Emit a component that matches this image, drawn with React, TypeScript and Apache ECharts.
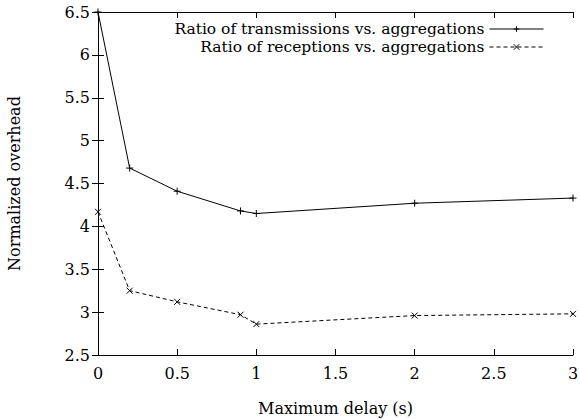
import React, { useEffect, useRef } from "react";
import * as echarts from "echarts";

const delays = [0, 0.2, 0.5, 0.9, 1, 2, 3];
const transmissions = [6.5, 4.68, 4.41, 4.18, 4.15, 4.27, 4.33];
const receptions = [4.17, 3.25, 3.12, 2.97, 2.86, 2.96, 2.98];
const seriesNames = [
  "Ratio of transmissions vs. aggregations",
  "Ratio of receptions vs. aggregations",
];

const FONT = "DejaVu Serif";
const FS = 16;
const plus = "path://M0,5L10,5M5,0L5,10";
const cross = "path://M0,0L10,10M10,0L0,10";

export default function App() {
  const ref = useRef<HTMLDivElement>(null);
  useEffect(() => {
    if (!ref.current) return;
    const chart = echarts.init(ref.current, undefined, { renderer: "svg" });
    const axisCommon = {
      axisLine: { show: true, lineStyle: { color: "#000", width: 1 } },
      axisTick: { show: true, inside: true, length: 6, lineStyle: { color: "#000" } },
      splitLine: { show: false },
    };
    chart.setOption({
      animation: false,
      backgroundColor: "#fff",
      textStyle: { fontFamily: FONT, color: "#000" },
      grid: { left: 98, right: 7, top: 12, bottom: 64, outerBoundsMode: "none", containLabel: false },
      legend: {
        right: 31,
        top: 15,
        orient: "vertical",
        align: "right",
        itemWidth: 54,
        itemHeight: 7,
        itemGap: 0,
        lineStyle: { width: 1 },
        itemStyle: { borderWidth: 1 },
        textStyle: { fontFamily: FONT, fontSize: 15.5, color: "#000", lineHeight: 18 },
        data: seriesNames,
      },
      xAxis: [
        {
          type: "value",
          min: 0,
          max: 3,
          interval: 0.5,
          name: "Maximum delay (s)",
          nameLocation: "middle",
          nameGap: 45,
          nameTextStyle: { fontFamily: FONT, fontSize: FS, color: "#000" },
          axisLabel: { fontFamily: FONT, fontSize: FS, color: "#000", margin: 10 },
          ...axisCommon,
        },
        {
          type: "value",
          position: "top",
          min: 0,
          max: 3,
          interval: 0.5,
          axisLabel: { show: false },
          ...axisCommon,
        },
      ],
      yAxis: [
        {
          type: "value",
          min: 2.5,
          max: 6.5,
          interval: 0.5,
          name: "Normalized overhead",
          nameLocation: "middle",
          nameGap: 76,
          nameTextStyle: { fontFamily: FONT, fontSize: FS, color: "#000" },
          axisLabel: { fontFamily: FONT, fontSize: FS, color: "#000", margin: 8 },
          ...axisCommon,
        },
        {
          type: "value",
          position: "right",
          min: 2.5,
          max: 6.5,
          interval: 0.5,
          axisLabel: { show: false },
          ...axisCommon,
        },
      ],
      series: [
        {
          name: seriesNames[0],
          type: "line",
          data: delays.map((d, i) => [d, transmissions[i]]),
          symbol: plus,
          symbolSize: 7,
          showAllSymbol: true,
          lineStyle: { color: "#000", width: 1, type: "solid" },
          itemStyle: { color: "#000", borderColor: "#000", borderWidth: 1 },
          emphasis: { disabled: true },
        },
        {
          name: seriesNames[1],
          type: "line",
          data: delays.map((d, i) => [d, receptions[i]]),
          symbol: cross,
          symbolSize: 6,
          showAllSymbol: true,
          lineStyle: { color: "#000", width: 1, type: [4, 3] },
          itemStyle: { color: "#000", borderColor: "#000", borderWidth: 1 },
          emphasis: { disabled: true },
        },
      ],
    });
    return () => chart.dispose();
  }, []);
  return <div ref={ref} style={{ width: 580, height: 419, position: "absolute", left: 0, top: 0 }} />;
}
